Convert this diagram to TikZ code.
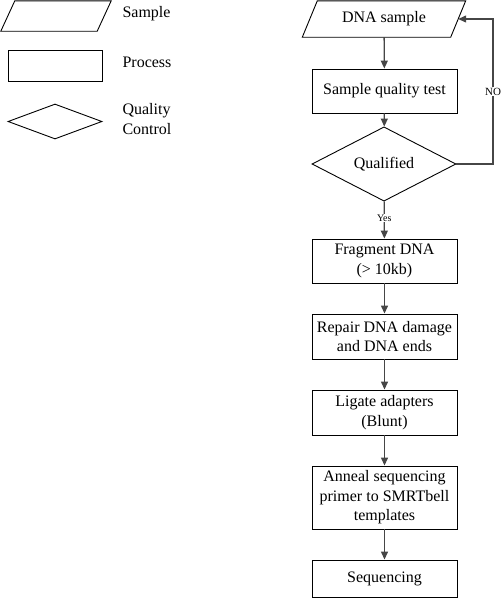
\documentclass[tikz,border=0pt]{standalone}
\usepackage{fontspec}
\setmainfont{Liberation Serif}
\usetikzlibrary{shapes.geometric,arrows.meta,positioning}
\definecolor{FlowGray}{RGB}{70,70,70}

\begin{document}
\begin{tikzpicture}[x=1pt,y=-1pt,
  every node/.style={font=\fontsize{16}{19.5}\selectfont},
  samplebox/.style={rectangle,inner sep=0pt},
  pgram/.style={draw,line width=0.9pt,line join=miter},
  procbox/.style={draw,line width=0.9pt,rectangle,inner sep=0pt,align=center},
  qcbox/.style={draw,line width=0.9pt,diamond,inner sep=0pt},
  legendtext/.style={anchor=west,align=left},
  flow/.style={-{Triangle[length=8pt,width=7pt]},draw=FlowGray,line width=1.3pt},
  branch/.style={fill=white,inner sep=1pt,font=\fontsize{10}{12}\selectfont},
]
\useasboundingbox (0,0) rectangle (501,598);
% legend
\node[samplebox,minimum width=96,minimum height=30] (legsample) at (56,16) {};
\draw[pgram] ([xshift=7pt]legsample.north west) -- ([xshift=7pt]legsample.north east)
  -- ([xshift=-7pt]legsample.south east) -- ([xshift=-7pt]legsample.south west) -- cycle;
\node[procbox,minimum width=94,minimum height=31] (legproc) at (55,65.5) {};
\node[qcbox,minimum width=94,minimum height=35] (legqc) at (55,121.5) {};
\node[legendtext] (legsampletxt) at (119,14) {Sample};
\node[legendtext] (legproctxt) at (119,62) {Process};
\node[legendtext] (legqctxt) at (119,119) {Quality\\Control};
% main flow
\node[samplebox,minimum width=148,minimum height=36] (sample) at (384,19) {DNA sample};
\draw[pgram] ([xshift=7.5pt]sample.north west) -- ([xshift=7.5pt]sample.north east)
  -- ([xshift=-7.5pt]sample.south east) -- ([xshift=-7.5pt]sample.south west) -- cycle;
\node[procbox,minimum width=145,minimum height=44] (test) at (384.5,91) {Sample quality test};
\node[qcbox,minimum width=144,minimum height=52] (qc) at (384,164) {Qualified};
\node[procbox,minimum width=145,minimum height=44] (frag) at (384.5,261) {Fragment DNA\\(> 10kb)};
\node[procbox,minimum width=145,minimum height=45] (repair) at (384.5,336.5) {Repair DNA damage\\and DNA ends};
\node[procbox,minimum width=145,minimum height=45] (ligate) at (384.5,412.5) {Ligate adapters\\(Blunt)};
\node[procbox,minimum width=145,minimum height=63] (anneal) at (384.5,497.5) {Anneal sequencing\\primer to SMRTbell\\templates};
\node[procbox,minimum width=145,minimum height=37] (seq) at (384.5,578.5) {Sequencing};
\coordinate (loop) at (493,164);
\draw[flow] (sample) -- (test);
\draw[flow] (test) -- (qc);
\draw[flow] (qc) -- node[branch,pos=0.45] {Yes} (frag);
\draw[flow] (qc.east) -- (loop) |- node[branch,pos=0.25,font=\fontsize{11}{13}\selectfont] {NO} (sample.east);
\draw[flow] (frag) -- (repair);
\draw[flow] (repair) -- (ligate);
\draw[flow] (ligate) -- (anneal);
\draw[flow] (anneal) -- (seq);
\end{tikzpicture}
\end{document}
